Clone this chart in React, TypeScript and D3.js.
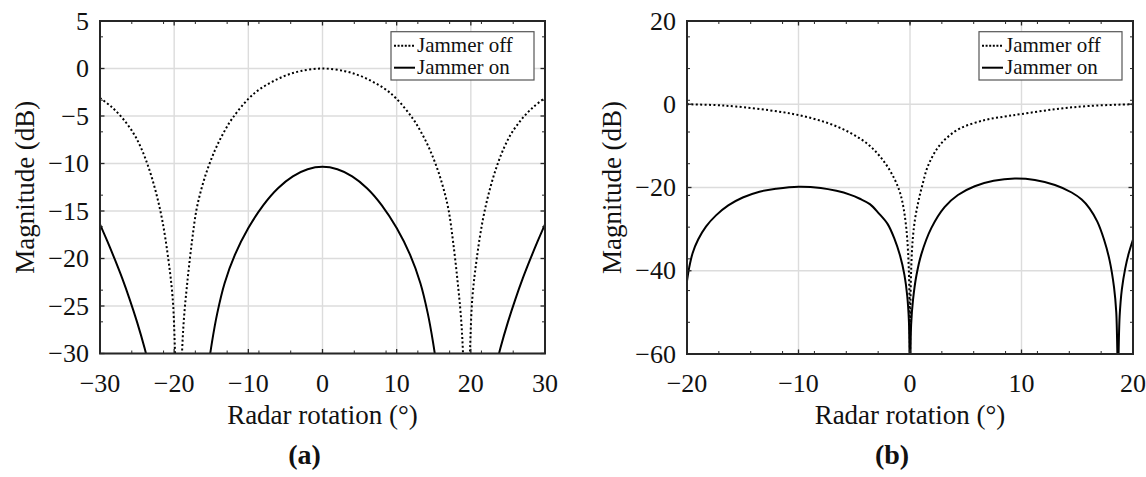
import React from 'react';
import * as d3 from 'd3';

// ---------- data ----------
const aXTicks = [-30, -20, -10, 0, 10, 20, 30];
const aYTicks = [-30, -25, -20, -15, -10, -5, 0, 5];
const bXTicks = [-20, -10, 0, 10, 20];
const bYTicks = [-60, -40, -20, 0, 20];

// Panel (a): Jammer off (dotted)
const aJammerOff: [number, number][] = [
  [-30, -3.1], [-28.5, -4.0], [-27, -5.2], [-25.5, -6.8], [-24.5, -8.3], [-23.5, -10.3],
  [-22.5, -12.9], [-21.6, -16.0], [-20.8, -20], [-20.2, -24.2], [-19.9, -29.5], [-19.7, -35],
  [-19.45, -42],
  [-19.2, -36], [-19.0, -31], [-18.7, -26.5], [-18.2, -22.3], [-17.6, -18.2], [-17, -14.9],
  [-16.3, -12.6], [-15.5, -10.6], [-14.5, -8.6], [-13.5, -7.0], [-12.2, -5.3], [-10, -3.2],
  [-8.5, -2.2], [-6.8, -1.4], [-5, -0.75], [-3, -0.28], [0, 0],
  [3, -0.28], [5, -0.75], [6.8, -1.4], [8.5, -2.2], [10, -3.2], [12.2, -5.3], [13.5, -7.0],
  [14.5, -8.6], [15.5, -10.6], [16.3, -12.6], [17, -14.9], [17.6, -18.2], [18.2, -22.3],
  [18.7, -26.5], [19.0, -31], [19.2, -36],
  [19.45, -42],
  [19.7, -35], [19.9, -29.5], [20.2, -24.2], [20.8, -20], [21.6, -16.0], [22.5, -12.9],
  [23.5, -10.3], [24.5, -8.3], [25.5, -6.8], [27, -5.2], [28.5, -4.0], [30, -3.1],
];
// Panel (a): Jammer on (solid), three lobes
const aJammerOnLeft: [number, number][] = [
  [-30, -16.4], [-29, -18.2], [-28, -20.1], [-27, -22.1], [-26, -24.3], [-25, -26.7],
  [-24, -29.4], [-23.5, -31], [-23.0, -33],
];
const aJammerOnMain: [number, number][] = [
  [-15.8, -34.5], [-15.4, -31.5], [-14.9, -28.8], [-14.2, -25.8], [-13.2, -22.6], [-11.8, -19.6],
  [-10, -16.8], [-8, -14.4], [-6, -12.6], [-4, -11.35], [-2, -10.6], [0, -10.35],
  [2, -10.6], [4, -11.35], [6, -12.6], [8, -14.4], [10, -16.8], [11.8, -19.6], [13.2, -22.6],
  [14.2, -25.8], [14.9, -28.8], [15.4, -31.5], [15.8, -34.5],
];
const aJammerOnRight: [number, number][] = [
  [23.0, -33], [23.5, -31], [24, -29.4], [25, -26.7], [26, -24.3], [27, -22.1], [28, -20.1],
  [29, -18.2], [30, -16.4],
];
// Panel (b): Jammer off (dotted)
const bJammerOff: [number, number][] = [
  [-20, 0], [-17.5, -0.2], [-15.6, -0.55], [-12.6, -1.45], [-10, -2.6], [-7.5, -4.4],
  [-5.4, -6.8], [-3.6, -10.0], [-2.3, -13.9], [-1.4, -17.9], [-0.9, -21.2], [-0.6, -24.6],
  [-0.4, -28.2], [-0.25, -32.3], [-0.12, -38.7], [-0.05, -46.3], [-0.02, -54.3], [0, -70],
  [0.02, -54.3], [0.05, -46.3], [0.12, -38.7], [0.25, -32.3], [0.45, -27.6], [0.75, -23.4],
  [1.1, -19.5], [1.6, -14.9], [2.4, -10.8], [3.2, -8.3], [4.5, -5.8], [6.7, -3.8],
  [8.5, -2.95], [10, -2.35], [13, -1.2], [16.1, -0.4], [20, 0],
];
// Panel (b): Jammer on (solid)
const bJammerOn: [number, number][] = [
  [-20, -42.5], [-19.8, -39.2], [-19.5, -35.8], [-19, -32.5], [-18.3, -29.4], [-17.4, -26.7],
  [-16.3, -24.3], [-15, -22.4], [-13.5, -21.0], [-12, -20.3], [-10, -19.8], [-8, -20.1],
  [-6.6, -20.8], [-5.4, -21.7], [-4.5, -22.7], [-3.6, -24.0], [-2.8, -26.2], [-2.0, -28.8],
  [-1.4, -32.3], [-0.9, -36.3], [-0.5, -41.0], [-0.25, -46], [-0.1, -52], [0, -66],
  [0.1, -53], [0.27, -47], [0.57, -41.2], [1.02, -36], [1.92, -29.7], [3.1, -24.7],
  [4.3, -21.8], [5.8, -19.7], [7.5, -18.4], [9.4, -17.85], [11.2, -18.2], [13, -19.4],
  [14.5, -21.2], [15.4, -22.9], [16.1, -25.0], [16.8, -28.2], [17.4, -32.5], [17.9, -37.5],
  [18.3, -44], [18.5, -50], [18.65, -64], [18.8, -51], [19.0, -44.5], [19.3, -39.5],
  [19.6, -36], [20, -32.5],
];

const legendLabels = ['Jammer off', 'Jammer on'];
const xLabel = 'Radar rotation (°)';
const yLabel = 'Magnitude (dB)';

const FONT = "'Liberation Serif', 'Times New Roman', Times, serif";
const AX = '#262626';
const TXT = '#111';

type Series = [number, number][];
type PanelProps = {
  id: string;
  x0: number; x1: number; y0: number; y1: number;
  xDomain: [number, number]; yDomain: [number, number];
  xTicks: number[]; yTicks: number[];
  off: Series[]; on: Series[];
  title: string;
};

function Panel(p: PanelProps) {
  const x = d3.scaleLinear().domain(p.xDomain).range([p.x0, p.x1]);
  const y = d3.scaleLinear().domain(p.yDomain).range([p.y1, p.y0]);
  const line = d3.line<[number, number]>().x(d => x(d[0])).y(d => y(d[1])).curve(d3.curveCatmullRom.alpha(0.5));
  const xMinor = d3.range(15).map(k => p.xDomain[0] + (k * (p.xDomain[1] - p.xDomain[0])) / 14);
  const yMinor = d3.range(11).map(k => p.yDomain[0] + (k * (p.yDomain[1] - p.yDomain[0])) / 10.5)
    .filter(v => v <= p.yDomain[1]);
  const fmt = d3.format('d');
  const cx = (p.x0 + p.x1) / 2;
  const cy = (p.y0 + p.y1) / 2;
  const lgW = 143, lgH = 48.3;
  const lgX = p.x1 - 11 - lgW, lgY = p.y0 + 10.7;
  return (
    <g>
      <defs>
        <clipPath id={p.id}>
          <rect x={p.x0} y={p.y0} width={p.x1 - p.x0} height={p.y1 - p.y0} />
        </clipPath>
      </defs>
      <rect x={p.x0} y={p.y0} width={p.x1 - p.x0} height={p.y1 - p.y0} fill="#fff" />
      {/* grid */}
      {p.xTicks.map(t => (
        <line key={'gx' + t} x1={x(t)} x2={x(t)} y1={p.y0} y2={p.y1} stroke="#dcdcdc" strokeWidth={1.4} />
      ))}
      {p.yTicks.map(t => (
        <line key={'gy' + t} x1={p.x0} x2={p.x1} y1={y(t)} y2={y(t)} stroke="#dcdcdc" strokeWidth={1.4} />
      ))}
      {/* curves */}
      <g clipPath={`url(#${p.id})`}>
        {p.off.map((s, i) => (
          <path key={'off' + i} d={line(s) || ''} fill="none" stroke="#000" strokeWidth={2} strokeDasharray="2 2.4" />
        ))}
        {p.on.map((s, i) => (
          <path key={'on' + i} d={line(s) || ''} fill="none" stroke="#000" strokeWidth={2} />
        ))}
      </g>
      {/* minor ticks */}
      {xMinor.map((t, i) => (
        <g key={'mx' + i} stroke={AX} strokeWidth={1}>
          <line x1={x(t)} x2={x(t)} y1={p.y1} y2={p.y1 - 3} />
          <line x1={x(t)} x2={x(t)} y1={p.y0} y2={p.y0 + 3} />
        </g>
      ))}
      {yMinor.map((t, i) => (
        <g key={'my' + i} stroke={AX} strokeWidth={1}>
          <line x1={p.x0} x2={p.x0 + 3} y1={y(t)} y2={y(t)} />
          <line x1={p.x1} x2={p.x1 - 3} y1={y(t)} y2={y(t)} />
        </g>
      ))}
      {/* major ticks */}
      {p.xTicks.map(t => (
        <g key={'tx' + t} stroke={AX} strokeWidth={1.3}>
          <line x1={x(t)} x2={x(t)} y1={p.y1} y2={p.y1 - 4.5} />
          <line x1={x(t)} x2={x(t)} y1={p.y0} y2={p.y0 + 4.5} />
        </g>
      ))}
      {p.yTicks.map(t => (
        <g key={'ty' + t} stroke={AX} strokeWidth={1.3}>
          <line x1={p.x0} x2={p.x0 + 4.5} y1={y(t)} y2={y(t)} />
          <line x1={p.x1} x2={p.x1 - 4.5} y1={y(t)} y2={y(t)} />
        </g>
      ))}
      {/* frame */}
      <rect x={p.x0} y={p.y0} width={p.x1 - p.x0} height={p.y1 - p.y0} fill="none" stroke={AX} strokeWidth={2} />
      {/* tick labels */}
      {p.xTicks.map(t => (
        <text key={'lx' + t} x={x(t)} y={p.y1 + 38} textAnchor="middle" fontFamily={FONT} fontSize={26} fill={TXT}>
          {fmt(t)}
        </text>
      ))}
      {p.yTicks.map(t => (
        <text key={'ly' + t} x={p.x0 - 11} y={y(t) + 8.5} textAnchor="end" fontFamily={FONT} fontSize={26} fill={TXT}>
          {fmt(t)}
        </text>
      ))}
      {/* axis labels */}
      <text x={cx} y={424} textAnchor="middle" fontFamily={FONT} fontSize={27} fill={TXT}>{xLabel}</text>
      <text transform={`translate(${p.x0 - 66},${cy}) rotate(-90)`} textAnchor="middle" fontFamily={FONT} fontSize={27} fill={TXT}>
        {yLabel}
      </text>
      {/* title */}
      <text x={cx - 18} y={464} textAnchor="middle" fontFamily={FONT} fontSize={28} fontWeight="bold" fill={TXT}>
        {p.title}
      </text>
      {/* legend */}
      <rect x={lgX} y={lgY} width={lgW} height={lgH} fill="#fff" stroke="#555" strokeWidth={1.2} />
      {legendLabels.map((lab, i) => {
        const ly = lgY + 14 + i * 22;
        return (
          <g key={lab}>
            <line x1={lgX + 3} x2={lgX + 24} y1={ly} y2={ly} stroke="#000" strokeWidth={2}
              strokeDasharray={i === 0 ? '2 1.6' : undefined} />
            <text x={lgX + 26} y={ly + 6.5} fontFamily={FONT} fontSize={21} fill={TXT}>{lab}</text>
          </g>
        );
      })}
    </g>
  );
}

export default function App() {
  return (
    <svg width={1146} height={477} style={{ position: 'absolute', left: 0, top: 0, display: 'block', background: '#fff' }}>
      <rect x={0} y={0} width={1146} height={477} fill="#fff" />
      <Panel id="clipA" x0={100} x1={545} y0={21} y1={353.5} xDomain={[-30, 30]} yDomain={[-30, 5]}
        xTicks={aXTicks} yTicks={aYTicks} off={[aJammerOff]} on={[aJammerOnLeft, aJammerOnMain, aJammerOnRight]} title="(a)" />
      <Panel id="clipB" x0={687} x1={1133} y0={21} y1={354} xDomain={[-20, 20]} yDomain={[-60, 20]}
        xTicks={bXTicks} yTicks={bYTicks} off={[bJammerOff]} on={[bJammerOn]} title="(b)" />
    </svg>
  );
}
